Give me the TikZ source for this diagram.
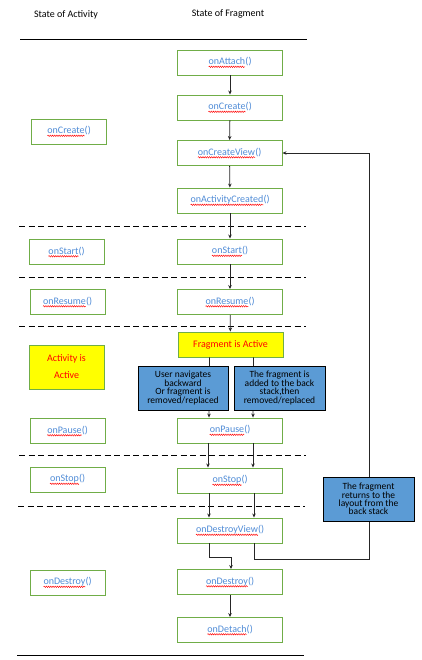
\documentclass[tikz,border=0pt]{standalone}
\usepackage{fontspec}
\setmainfont{Carlito}
\usetikzlibrary{arrows.meta, decorations.pathmorphing}

\definecolor{boxgreen}{RGB}{112,173,71}
\definecolor{methodblue}{RGB}{80,140,215}
\definecolor{notefill}{RGB}{91,155,213}
\definecolor{activeyellow}{RGB}{255,255,0}

\newcommand\spell[1]{\tikz[baseline=(sp.base)]{\node[inner sep=0pt, outer sep=0pt, minimum width=0pt, minimum height=0pt, draw=none, fill=none] (sp) {#1}; \draw[red, line width=0.45pt, decorate, decoration={snake, amplitude=0.7pt, segment length=2.2pt}] ([yshift=-2.2pt]sp.base west) -- ([yshift=-2.2pt]sp.base east);}}

\begin{document}
\begin{tikzpicture}[x=1pt, y=-1pt,
  fbox/.style={draw=boxgreen, line width=0.9pt, fill=white, minimum width=105pt, minimum height=25pt, inner sep=0pt, text=methodblue, font=\fontsize{10}{11}\selectfont},
  abox/.style={fbox, minimum width=75pt},
  yellowbox/.style={fbox, fill=activeyellow, text=red},
  note/.style={draw=black, line width=0.9pt, fill=notefill, minimum width=90pt, minimum height=44pt, inner sep=0pt, align=center, font=\fontsize{9.5}{8.4}\selectfont},
  arr/.style={draw=black!85, line width=0.8pt, -{Stealth[length=4pt,width=3.5pt]}},
  sep/.style={black, line width=0.9pt, dash pattern=on 6pt off 3.5pt}]

\useasboundingbox (0,0) rectangle (422,660);

\node (hact) at (66, 15) [font=\fontsize{10}{11}\selectfont] {State of Activity};
\node (hfrag) at (228, 14) [font=\fontsize{10}{11}\selectfont] {State of Fragment};

\draw [black, line width=0.9pt] (20, 39) -- (307, 39);
\draw [sep] (19, 226) -- (306, 226);
\draw [sep] (19, 277) -- (306, 277);
\draw [sep] (19, 326) -- (306, 326);
\draw [sep] (19, 455) -- (306, 455);
\draw [sep] (18, 506) -- (305, 506);
\draw [black, line width=0.9pt] (17, 655) -- (304, 655);

\node (fattach) at (230, 62.5) [fbox] {\spell{onAttach}()};
\node (fcreate) at (230, 107.5) [fbox] {\spell{onCreate}()};
\node (fview) at (229.5, 153) [fbox] {\spell{onCreateView}()};
\node (factcreated) at (230, 200.5) [fbox] {\spell{onActivityCreated}()};
\node (fstart) at (230, 251.5) [fbox] {\spell{onStart}()};
\node (fresume) at (230, 302) [fbox] {\spell{onResume}()};
\node (factive) at (230.5, 344.5) [yellowbox] {Fragment is Active};
\node (fpause) at (230, 430.5) [fbox] {\spell{onPause}()};
\node (fstop) at (230, 480.5) [fbox] {\spell{onStop}()};
\node (fdview) at (230, 530.5) [fbox] {\spell{onDestroyView}()};
\node (fdestroy) at (230, 582) [fbox] {\spell{onDestroy}()};
\node (fdetach) at (230, 630) [fbox] {\spell{onDetach}()};

\node (acreate) at (69, 131.5) [abox] {\spell{onCreate}()};
\node (astart) at (66.5, 252) [abox] {\spell{onStart}()};
\node (aresume) at (67.5, 302) [abox] {\spell{onResume}()};
\node (aactive) at (66.5, 367) [yellowbox, minimum width=75pt, minimum height=44pt, align=center, font=\fontsize{10}{17}\selectfont] {Activity is\\Active};
\node (apause) at (67.5, 431) [abox] {\spell{onPause}()};
\node (astop) at (67.5, 479.5) [abox] {\spell{onStop}()};
\node (adestroy) at (67.5, 582.5) [abox] {\spell{onDestroy}()};

\draw [arr] (fattach) -- (fcreate);
\draw [arr] (fcreate) -- (fview);
\draw [arr] (fview) -- (factcreated);
\draw [arr] (factcreated) -- (fstart);
\draw [arr] (fstart) -- (fresume);
\draw [arr] (fresume) -- (factive);

\draw [arr] ([xshift=-21pt]factive.south) -- ([xshift=-21pt]fpause.north);
\draw [arr] ([xshift=23pt]factive.south) -- ([xshift=23pt]fpause.north);
\draw [arr] ([xshift=-22pt]fpause.south) -- ([xshift=-22pt]fstop.north);
\draw [arr] ([xshift=23pt]fpause.south) -- ([xshift=23pt]fstop.north);
\draw [arr] ([xshift=-21pt]fstop.south) -- ([xshift=-21pt]fdview.north);
\draw [arr] ([xshift=24pt]fstop.south) -- ([xshift=24pt]fdview.north);

\draw [arr] ([xshift=-21pt]fdview.south) -- ++(0, 14) -| ([xshift=1pt]fdestroy.north);
\draw [arr] (fdestroy) -- (fdetach);

\coordinate (back) at (369, 153);
\draw [arr] ([xshift=24pt]fdview.south) -- ++(0, 16) -| (back) -- (fview.east);

\node (nback) at (183, 388) [note] {User navigates\\backward\\Or fragment is\\removed/replaced};
\node (nstack) at (279.5, 388) [note, minimum width=91pt] {The fragment is\\added to the back\\stack,then\\removed/replaced};
\node (nreturn) at (368.5, 499) [note, minimum width=91pt] {The fragment\\returns to the\\layout from the\\back stack};

\end{tikzpicture}
\end{document}
